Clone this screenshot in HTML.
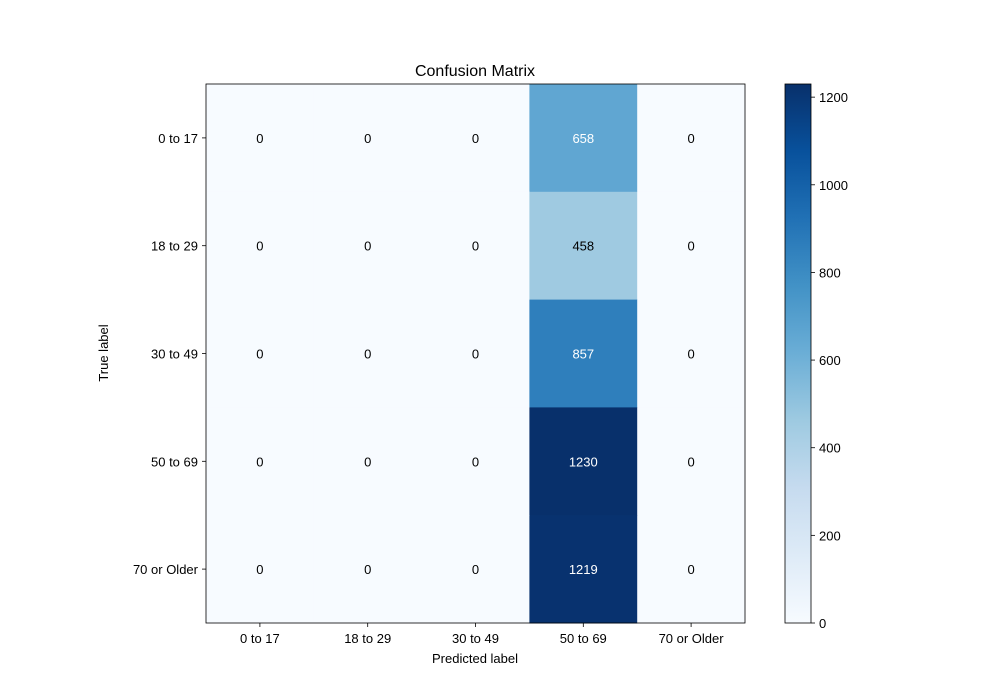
<!DOCTYPE html>
<html>
<head>
<meta charset="utf-8">
<style>
  body { margin: 0; background: #fff; }
  svg { display: block; font-family: "Liberation Sans", "DejaVu Sans", sans-serif; }
</style>
</head>
<body>
<svg id="chart" width="1000" height="700" viewBox="0 0 1000 700">
  <defs>
    <linearGradient id="cbgrad" x1="0" y1="1" x2="0" y2="0">
      <stop offset="0" stop-color="#f7fbff"/>
      <stop offset="0.125" stop-color="#deebf7"/>
      <stop offset="0.25" stop-color="#c6dbef"/>
      <stop offset="0.375" stop-color="#9ecae1"/>
      <stop offset="0.5" stop-color="#6baed6"/>
      <stop offset="0.625" stop-color="#4292c6"/>
      <stop offset="0.75" stop-color="#2171b5"/>
      <stop offset="0.875" stop-color="#08519c"/>
      <stop offset="1" stop-color="#08306b"/>
    </linearGradient>
  </defs>
  <text x="475" y="76" text-anchor="middle" font-size="16">Confusion Matrix</text>
  <g id="cells"></g>
  <g id="xticks"></g>
  <g id="yticks"></g>
  <text x="475" y="663" text-anchor="middle" font-size="13">Predicted label</text>
  <text x="108" y="353" text-anchor="middle" font-size="13" transform="rotate(-90 108 353)">True label</text>
  <rect x="785" y="84" width="26" height="539" fill="url(#cbgrad)" stroke="#000" stroke-width="0.8"/>
  <g id="cbticks"></g>
</svg>
<script>
const predictedLabels = ["0 to 17", "18 to 29", "30 to 49", "50 to 69", "70 or Older"];
const trueLabels = ["0 to 17", "18 to 29", "30 to 49", "50 to 69", "70 or Older"];
const row0 = [0, 0, 0, 658, 0];
const row1 = [0, 0, 0, 458, 0];
const row2 = [0, 0, 0, 857, 0];
const row3 = [0, 0, 0, 1230, 0];
const row4 = [0, 0, 0, 1219, 0];
const matrix = [row0, row1, row2, row3, row4];
const colorbarTicks = [0, 200, 400, 600, 800, 1000, 1200];

const NS = "http://www.w3.org/2000/svg";
const X0 = 206, Y0 = 84, W = 539, H = 539;
const n = predictedLabels.length;
const cw = W / n, ch = H / trueLabels.length;
const vmax = Math.max(...matrix.flat());
const vmin = Math.min(...matrix.flat());
const stops = ["#f7fbff","#deebf7","#c6dbef","#9ecae1","#6baed6","#4292c6","#2171b5","#08519c","#08306b"].map(h => [1,3,5].map(i => parseInt(h.substr(i,2),16)));
function color(v) {
  let t = (v - vmin) / ((vmax - vmin) || 1);
  t = Math.max(0, Math.min(1, t)) * (stops.length - 1);
  const i = Math.min(Math.floor(t), stops.length - 2), f = t - i;
  const c = stops[i].map((a, k) => Math.round(a + (stops[i+1][k] - a) * f));
  return `rgb(${c[0]},${c[1]},${c[2]})`;
}
function xPos(j) { return X0 + j * cw; }
function yPos(i) { return Y0 + i * ch; }
function cbY(v) { return Y0 + H - (v - vmin) / ((vmax - vmin) || 1) * H; }
function mk(tag, attrs, parent) {
  const e = document.createElementNS(NS, tag);
  for (const k in attrs) e.setAttribute(k, attrs[k]);
  parent.appendChild(e);
  return e;
}
const cells = document.getElementById("cells");
matrix.forEach((row, i) => {
  row.forEach((v, j) => {
    const r = mk("rect", {x: xPos(j), y: yPos(i), width: cw + 0.5, height: ch + 0.5, fill: color(v)}, cells);
    
    
    const t = mk("text", {x: xPos(j) + cw/2, y: yPos(i) + ch/2 + 5, "text-anchor": "middle", "font-size": 13, fill: v > vmax/2 ? "#fff" : "#000"}, cells);
    t.textContent = v;
    
    
  });
});
const frame = mk("rect", {x: X0, y: Y0, width: W, height: H, fill: "none", stroke: "#000", "stroke-width": 0.8}, cells);



const xt = document.getElementById("xticks");
predictedLabels.forEach((l, j) => {
  const x = xPos(j) + cw/2;
  mk("line", {x1: x, x2: x, y1: Y0 + H, y2: Y0 + H + 4, stroke: "#000", "stroke-width": 0.8}, xt);
  const t = mk("text", {x: x, y: Y0 + H + 20, "text-anchor": "middle", "font-size": 13}, xt);
  t.textContent = l;
  
  
});
const yt = document.getElementById("yticks");
trueLabels.forEach((l, i) => {
  const y = yPos(i) + ch/2;
  mk("line", {x1: X0 - 4, x2: X0, y1: y, y2: y, stroke: "#000", "stroke-width": 0.8}, yt);
  const t = mk("text", {x: X0 - 8, y: y + 5, "text-anchor": "end", "font-size": 13}, yt);
  t.textContent = l;
  
  
});
const cb = document.getElementById("cbticks");
colorbarTicks.forEach(v => {
  const y = cbY(v);
  mk("line", {x1: 811, x2: 815, y1: y, y2: y, stroke: "#000", "stroke-width": 0.8}, cb);
  const t = mk("text", {x: 819, y: y + 5, "font-size": 13}, cb);
  t.textContent = v;
  
  
});
</script>
</body>
</html>
